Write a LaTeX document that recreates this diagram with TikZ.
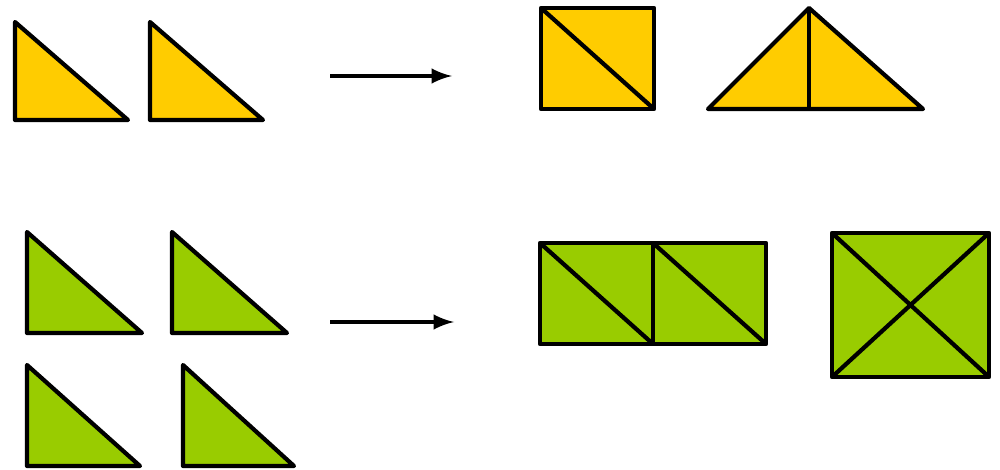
\documentclass[tikz,border=0pt]{standalone}
\usepackage{tikz}

\definecolor{tileyellow}{RGB}{255,204,0}
\definecolor{tilegreen}{RGB}{153,204,0}

\begin{document}
\begin{tikzpicture}[x=0.01cm,y=-0.01cm,line join=round]
  \useasboundingbox (0,0) rectangle (1000,470);
  \tikzset{yellowtile/.style={fill=tileyellow,draw=black,line width=1.2pt},
           greentile/.style={fill=tilegreen,draw=black,line width=1.2pt}}
  % top row: two yellow triangles
  \draw[yellowtile] (15,22) -- (15,120) -- (128,120) -- cycle;
  \draw[yellowtile] (150,22) -- (150,120) -- (263,120) -- cycle;
  \coordinate (ya) at (330,76);
  \coordinate (yb) at (452,76);
  \draw[line width=1pt,-latex] (ya) -- (yb);
  \draw[yellowtile] (541,8) rectangle (654,109);
  \draw[line width=1.2pt] (541,8) -- (654,109);
  \draw[yellowtile] (708,109) -- (809,8) -- (923,109) -- cycle;
  \draw[line width=1.2pt] (809,8) -- (809,109);
  % bottom row: four green triangles
  \draw[greentile] (27,232) -- (27,333) -- (142,333) -- cycle;
  \draw[greentile] (172,232) -- (172,333) -- (287,333) -- cycle;
  \draw[greentile] (27,365) -- (27,466) -- (140,466) -- cycle;
  \draw[greentile] (183,365) -- (183,466) -- (294,466) -- cycle;
  \coordinate (ga) at (330,322);
  \coordinate (gb) at (454,322);
  \draw[line width=1pt,-latex] (ga) -- (gb);
  \draw[greentile] (540,243) rectangle (766,344);
  \draw[line width=1.2pt] (653,243) -- (653,344);
  \draw[line width=1.2pt] (540,243) -- (653,344);
  \draw[line width=1.2pt] (653,243) -- (766,344);
  \draw[greentile] (832,233) rectangle (989,377);
  \draw[line width=1.2pt] (832,233) -- (989,377);
  \draw[line width=1.2pt] (989,233) -- (832,377);
\end{tikzpicture}
\end{document}
